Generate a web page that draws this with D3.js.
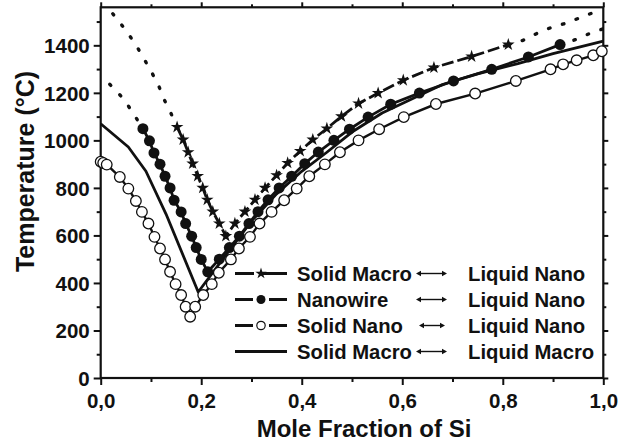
<!DOCTYPE html>
<html><head><meta charset="utf-8">
<script src="https://cdn.jsdelivr.net/npm/d3@7"></script>
<style>body{margin:0;background:#fff}svg{display:block}text{font-family:"Liberation Sans",Arial,sans-serif;font-weight:bold;fill:#111}</style>
</head><body><svg id="c" width="626" height="443"></svg>
<script>
// ---- data ----
const xTicks = [0, 0.2, 0.4, 0.6, 0.8, 1.0];
const xTickLabels = ["0,0", "0,2", "0,4", "0,6", "0,8", "1,0"];
const yTicks = [0, 200, 400, 600, 800, 1000, 1200, 1400];

// Solid Macro <-> Liquid Nano (stars)
const starX = [0.152,0.164,0.174,0.183,0.193,0.203,0.212,0.223,0.236,0.249,0.267,0.287,0.307,0.327,0.350,0.372,0.397,0.422,0.450,0.479,0.513,0.552,0.602,0.663,0.738,0.811];
const starT = [1056,1003,950,902,850,800,750,700,650,597,650,700,750,800,853,905,955,1003,1050,1101,1155,1199,1253,1306,1353,1403];
const starDotLeftX = [0.024,0.046,0.068,0.084,0.100,0.115,0.126,0.140,0.152];
const starDotLeftT = [1533,1474,1409,1351,1292,1232,1173,1113,1056];
const starDotRightX = [0.811,0.840,0.867,0.895,0.927,0.957,0.983,1.0];
const starDotRightT = [1403,1421,1449,1474,1494,1519,1540,1550];

// Nanowire <-> Liquid Nano (filled circles)
const wireX = [0.084,0.097,0.106,0.118,0.128,0.138,0.146,0.160,0.169,0.181,0.190,0.200,0.213,0.236,0.256,0.276,0.295,0.313,0.333,0.355,0.380,0.406,0.433,0.464,0.495,0.532,0.577,0.634,0.702,0.778,0.851,0.914];
const wireT = [1049,998,947,900,849,800,748,699,650,597,549,499,447,500,549,597,650,700,750,800,849,902,951,1000,1047,1098,1152,1199,1250,1299,1351,1403];
const wireDotLeftX = [0.018,0.045,0.065,0.084];
const wireDotLeftT = [1236,1176,1113,1049];
const wireDotRightX = [0.914,0.945,0.972,1.0];
const wireDotRightT = [1403,1424,1449,1470];

// Solid Nano <-> Liquid Nano (open circles)
const nanoX = [0.0,0.005,0.012,0.038,0.055,0.070,0.082,0.095,0.107,0.118,0.128,0.138,0.149,0.160,0.169,0.178,0.188,0.204,0.221,0.235,0.259,0.275,0.297,0.316,0.340,0.365,0.390,0.415,0.446,0.476,0.513,0.554,0.603,0.667,0.745,0.826,0.895,0.920,0.947,0.980,0.997];
const nanoT = [910,905,898,846,797,745,699,650,594,545,499,447,395,349,300,258,300,349,395,443,499,545,594,650,699,748,797,849,899,950,1000,1047,1098,1153,1197,1250,1299,1320,1337,1358,1375];

// Solid Macro <-> Liquid Macro (solid line)
const macroX = [0.0,0.055,0.090,0.130,0.194,0.250,0.300,0.350,0.400,0.450,0.500,0.560,0.620,0.680,0.750,0.830,0.900,1.0];
const macroT = [1070,972,870,690,362,520,660,775,870,950,1035,1115,1175,1235,1280,1323,1365,1418];

const legendLeft = ["Solid Macro", "Nanowire", "Solid Nano", "Solid Macro"];
const legendRight = ["Liquid Nano", "Liquid Nano", "Liquid Nano", "Liquid Macro"];

// ---- chart ----
const svg = d3.select("#c");
const x = d3.scaleLinear().domain([0, 1]).range([100.7, 603.3]);
const y = d3.scaleLinear().domain([0, 1560]).range([378, 7.3]);
const zip = (a, b) => a.map((v, i) => [v, b[i]]);
const line = d3.line().x(d => x(d[0])).y(d => y(d[1]));

// axes
const axB = d3.axisBottom(x).tickValues(d3.range(0, 1.0001, 0.1)).tickSize(6).tickFormat("");
const gB = svg.append("g").attr("transform", "translate(0,378)").call(axB);
gB.selectAll(".tick line").attr("y2", (d, i) => i % 2 ? 4 : 7);
gB.selectAll(".tick").filter((d, i) => i % 2 === 0).append("text")
  .attr("y", 29.5).attr("text-anchor", "middle").style("font-size", "20.5px")
  .text((d, i) => xTickLabels[Math.round(d / 0.2)]);
const axT = d3.axisTop(x).tickValues(d3.range(0, 1.0001, 0.1)).tickFormat("");
const gT = svg.append("g").attr("transform", "translate(0,7.3)").call(axT);
gT.selectAll(".tick line").attr("y2", (d, i) => i % 2 ? -3 : -5);

const axL = d3.axisLeft(y).tickValues(d3.range(0, 1501, 100)).tickFormat("");
const gL = svg.append("g").attr("transform", "translate(100.7,0)").call(axL);
gL.selectAll(".tick line").attr("x2", d => d % 200 ? -4 : -7);
gL.selectAll(".tick").filter(d => yTicks.includes(d)).append("text")
  .attr("x", -11).attr("dy", "0.36em").attr("text-anchor", "end").style("font-size", "20.5px")
  .text(d => d);
const axR = d3.axisRight(y).tickValues(d3.range(0, 1501, 100)).tickFormat("");
const gR = svg.append("g").attr("transform", "translate(603.3,0)").call(axR);
gR.selectAll(".tick line").attr("x2", d => d % 200 ? 3 : 5);
svg.selectAll(".domain").remove();
svg.selectAll(".tick line").attr("stroke", "#111").attr("stroke-width", 2);
svg.append("rect").attr("x", 100.7).attr("y", 7.3).attr("width", 502.6).attr("height", 370.7)
  .attr("fill", "none").attr("stroke", "#111").attr("stroke-width", 2.2);

// titles
svg.append("text").attr("x", 364).attr("y", 437).attr("text-anchor", "middle")
  .style("font-size", "24px").text("Mole Fraction of Si");
svg.append("text").attr("transform", "translate(34,171.5) rotate(-90)").attr("text-anchor", "middle")
  .style("font-size", "25px").text("Temperature (°C)");

// series
const plot = svg.append("g");
const dotStyle = sel => sel.attr("fill", "none").attr("stroke", "#111").attr("stroke-width", 3.4)
  .attr("stroke-linecap", "round").attr("stroke-dasharray", "1.5,13");
plot.append("path").datum(zip(starDotLeftX, starDotLeftT)).attr("d", line).call(dotStyle);
plot.append("path").datum(zip(starDotRightX, starDotRightT)).attr("d", line).call(dotStyle);
plot.append("path").datum(zip(wireDotLeftX, wireDotLeftT)).attr("d", line).call(dotStyle);
plot.append("path").datum(zip(wireDotRightX, wireDotRightT)).attr("d", line).call(dotStyle);

plot.append("path").datum(zip(macroX, macroT)).attr("d", line)
  .attr("fill", "none").attr("stroke", "#111").attr("stroke-width", 2.8).attr("stroke-linejoin", "round");
plot.append("path").datum(zip(nanoX, nanoT)).attr("d", line)
  .attr("fill", "none").attr("stroke", "#111").attr("stroke-width", 2.4);
plot.append("path").datum(zip(wireX, wireT)).attr("d", line)
  .attr("fill", "none").attr("stroke", "#111").attr("stroke-width", 2.8);
plot.append("path").datum(zip(starX, starT)).attr("d", line)
  .attr("fill", "none").attr("stroke", "#111").attr("stroke-width", 2.8).attr("stroke-dasharray", "12,4");

const star = d3.symbol().type(d3.symbolStar);
plot.selectAll(".st").data(zip(starX, starT)).join("path")
  .attr("transform", d => `translate(${x(d[0])},${y(d[1])})`).attr("d", star.size(50)).attr("fill", "#111");
plot.selectAll(".fc").data(zip(wireX, wireT)).join("circle")
  .attr("cx", d => x(d[0])).attr("cy", d => y(d[1])).attr("r", 5.5).attr("fill", "#111");
plot.selectAll(".oc").data(zip(nanoX, nanoT)).join("circle")
  .attr("cx", d => x(d[0])).attr("cy", d => y(d[1])).attr("r", 5.3)
  .attr("fill", "#fff").attr("stroke", "#111").attr("stroke-width", 1.3);

// legend
const lg = svg.append("g");
const rowY = i => 273.5 + i * 26;
legendLeft.forEach((t, i) => {
  const yy = rowY(i);
  lg.append("line").attr("x1", 235).attr("x2", 287).attr("y1", yy).attr("y2", yy)
    .attr("stroke", "#111").attr("stroke-width", 2.8)
    .attr("stroke-dasharray", i === 0 ? "19,7,26" : i === 3 ? null : "18,16,18");
  if (i === 0) lg.append("path").attr("transform", `translate(261,${yy})`).attr("d", star.size(40)).attr("fill", "#111");
  if (i === 1) lg.append("circle").attr("cx", 261).attr("cy", yy).attr("r", 4.5).attr("fill", "#111");
  if (i === 2) lg.append("circle").attr("cx", 261).attr("cy", yy).attr("r", 4.2).attr("fill", "#fff").attr("stroke", "#111").attr("stroke-width", 1.2);
  lg.append("text").attr("x", 297).attr("y", yy).attr("dy", "0.36em").style("font-size", "20.3px").text(t);
  lg.append("text").attr("x", 468).attr("y", yy).attr("dy", "0.36em").style("font-size", "20.3px").text(legendRight[i]);
  const a0 = i === 2 ? 419 : 416, a1 = i === 2 ? 445 : 447;
  lg.append("line").attr("x1", a0 + 3).attr("x2", a1 - 3).attr("y1", yy).attr("y2", yy)
    .attr("stroke", "#111").attr("stroke-width", 1.4);
  lg.append("path").attr("d", `M${a0},${yy}l5,-2.8v5.6z M${a1},${yy}l-5,-2.8v5.6z`).attr("fill", "#111");
});
</script></body></html>
